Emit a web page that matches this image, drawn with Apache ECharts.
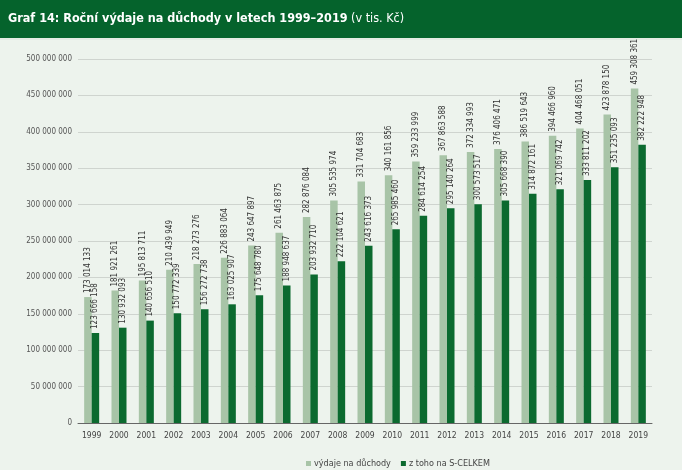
<!DOCTYPE html>
<html><head><meta charset="utf-8">
<script src="https://cdn.jsdelivr.net/npm/echarts@6/dist/echarts.min.js"></script>
<style>html,body{margin:0;padding:0;background:#edf3ed;}#c{width:682px;height:470px;}</style>
</head><body><div id="c"></div>
<script>
const years = ['1999','2000','2001','2002','2003','2004','2005','2006','2007','2008','2009','2010','2011','2012','2013','2014','2015','2016','2017','2018','2019'];
const totalExpenditure = [173014133,181921261,195813711,210439949,218273276,226883064,243647897,261463875,282876084,305535974,331704683,340161856,359233999,367863588,372334993,376406471,386519643,394466960,404468051,423878150,459308361];
const sCelkem = [123666158,130932093,140656510,150772339,156272738,163025907,175648780,188948637,203932710,222104621,243616373,265985460,284614254,295140264,300573517,305668390,314872161,321069742,333811202,351235093,382222948];
const seriesNames = ['výdaje na důchody','z toho na S-CELKEM'];
const titleBold = 'Graf 14: Roční výdaje na důchody v letech 1999–2019';
const titleNormal = ' (v tis. Kč)';

const FONT = "'Liberation Sans Narrow', 'DejaVu Sans Condensed', sans-serif";
function fmt(v){ return String(Math.round(v)).replace(/\B(?=(\d{3})+(?!\d))/g,' '); }

const chart = echarts.init(document.getElementById('c'));
const lbl = {show:true, position:'top', rotate:90, align:'left', verticalAlign:'middle', distance:4,
  fontSize:8, color:'#333', fontFamily:FONT, formatter:p=>fmt(p.value)};
chart.setOption({
  backgroundColor:'#edf3ed',
  animation:false,
  graphic:[
    {type:'rect', left:0, top:0, shape:{width:682,height:38}, style:{fill:'#05632c'}},
    {type:'rect', left:0, top:38, shape:{width:682,height:2}, style:{fill:'#e3ece3'}},
    {type:'text', left:8, top:12, style:{rich:{b:{fontSize:12.5,fontWeight:'bold',fill:'#fff',fontFamily:FONT},n:{fontSize:12.5,fill:'#fff',fontFamily:FONT}}, text:'{b|'+titleBold+'}{n|'+titleNormal+'}'}}
  ],
  grid:{left:78, right:30, top:59, bottom:47},
  legend:{top:459, left:306, itemWidth:5, itemHeight:5, itemGap:10, icon:'rect', padding:0,
    textStyle:{fontSize:9, color:'#444', fontFamily:FONT, padding:[0,0,0,-2]}, data:seriesNames},
  xAxis:{type:'category', data:years,
    axisLine:{lineStyle:{color:'#666', width:1}}, axisTick:{show:false},
    axisLabel:{fontSize:8.5, color:'#444', fontFamily:FONT, margin:8}},
  yAxis:{type:'value', min:0, max:500000000, interval:50000000,
    axisLine:{show:false}, axisTick:{show:false},
    splitLine:{lineStyle:{color:'#cfd4cf', width:1}},
    axisLabel:{fontSize:8, color:'#555', fontFamily:FONT, margin:6, formatter:v=>fmt(v)}},
  series:[
    {name:seriesNames[0], type:'bar', data:totalExpenditure, barWidth:7.5, barGap:'0%',
      itemStyle:{color:'#a8c4a7'}, label:lbl},
    {name:seriesNames[1], type:'bar', data:sCelkem, barWidth:7.5, barGap:'0%',
      itemStyle:{color:'#0b6a2f'}, label:lbl}
  ]
});
</script></body></html>
